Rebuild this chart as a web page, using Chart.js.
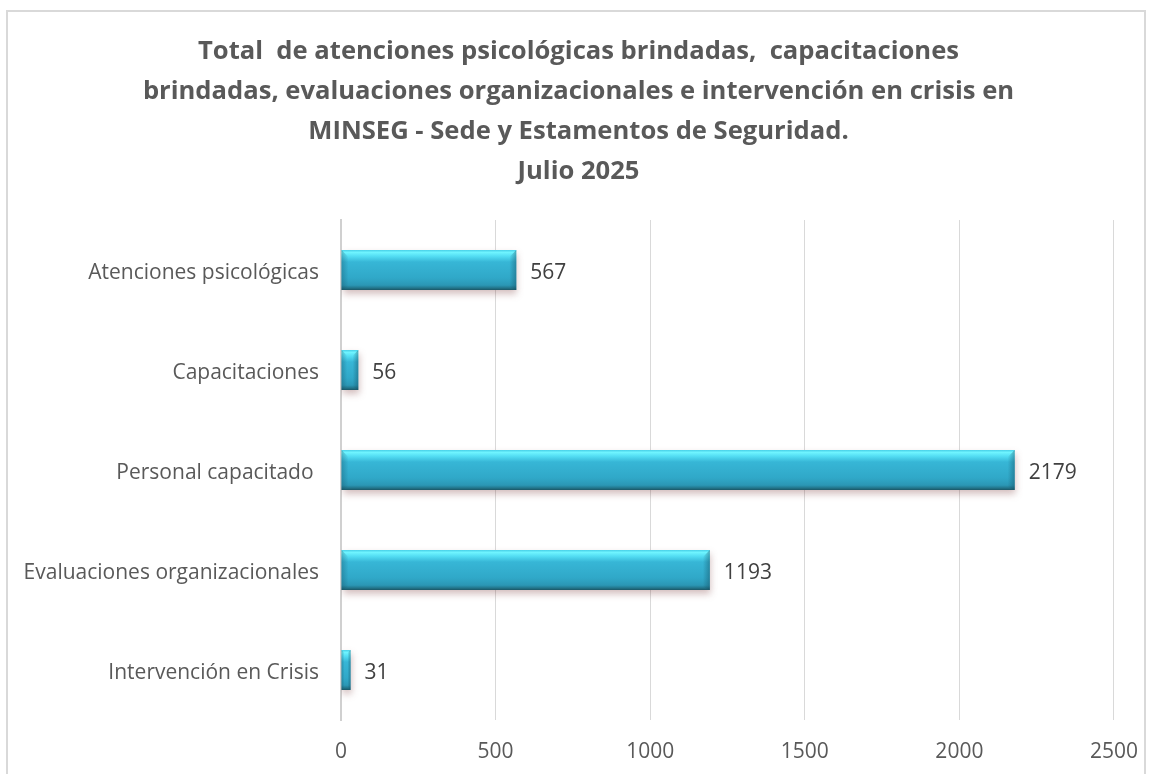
<!DOCTYPE html>
<html><head><meta charset="utf-8">
<script src="https://cdn.jsdelivr.net/npm/chart.js@4.4.1/dist/chart.umd.min.js"></script>
<style>
html,body{margin:0;padding:0;background:#fff;}
#wrap{position:relative;width:1157px;height:774px;overflow:hidden;}
#frame{position:absolute;left:6px;top:10px;width:1140px;height:800px;border:2px solid #d9d9d9;box-sizing:border-box;}
canvas{position:absolute;left:0;top:0;}
</style></head>
<body><div id="wrap"><div id="frame"></div><canvas id="c" width="1157" height="774"></canvas></div>
<script>
const titleLines = [
  "Total  de atenciones psicológicas brindadas,  capacitaciones",
  "brindadas, evaluaciones organizacionales e intervención en crisis en",
  "MINSEG - Sede y Estamentos de Seguridad.",
  "Julio 2025"
];
const categories = ["Atenciones psicológicas", "Capacitaciones", "Personal capacitado ", "Evaluaciones organizacionales", "Intervención en Crisis"];
const values = [567, 56, 2179, 1193, 31];
const xTicks = [0, 500, 1000, 1500, 2000, 2500];

const FONT = "'Open Sans', sans-serif";
const BAR_FRAC = 0.4;

function barGradient(ctx){
  const chart = ctx.chart;
  const ys = chart.scales.y;
  if(!ys) return '#31a9c8';
  const yc = ys.getPixelForValue(ctx.dataIndex);
  const h = ys.height / categories.length * BAR_FRAC;
  if(!isFinite(yc) || !isFinite(h) || h <= 0) return '#31a9c8';
  const g = chart.ctx.createLinearGradient(0, yc - h/2, 0, yc + h/2);
  g.addColorStop(0, '#47cfe6');
  g.addColorStop(0.06, '#6ff4ff');
  g.addColorStop(0.16, '#52dcf2');
  g.addColorStop(0.3, '#37b6d6');
  g.addColorStop(0.7, '#30a8c8');
  g.addColorStop(0.88, '#2b97b5');
  g.addColorStop(0.95, '#22758b');
  g.addColorStop(1, '#1a5666');
  return g;
}

const shadowPlugin = {
  id: 'shadow',
  beforeDatasetsDraw(chart){
    const c = chart.ctx; c.save();
    c.shadowColor = 'rgba(110,40,40,0.3)';
    c.shadowBlur = 7; c.shadowOffsetY = 4; c.shadowOffsetX = 1;
  },
  afterDatasetsDraw(chart){
    const c = chart.ctx; c.restore();
    const meta = chart.getDatasetMeta(0);
    c.save();
    meta.data.forEach((el, i) => {
      const top = el.y - el.height/2, bot = el.y + el.height/2;
      const left = el.base, right = el.x;
      const w = right - left;
      const e = Math.min(7, w/3);
      let g = c.createLinearGradient(right - e, 0, right, 0);
      g.addColorStop(0, 'rgba(20,80,100,0)');
      g.addColorStop(1, 'rgba(20,80,100,0.45)');
      c.fillStyle = g;
      c.beginPath(); c.moveTo(right - e, top + e); c.lineTo(right, top); c.lineTo(right, bot); c.lineTo(right - e, bot - 3); c.closePath(); c.fill();
      g = c.createLinearGradient(left, 0, left + e, 0);
      g.addColorStop(0, 'rgba(20,80,100,0.35)');
      g.addColorStop(1, 'rgba(20,80,100,0)');
      c.fillStyle = g;
      c.beginPath(); c.moveTo(left, top); c.lineTo(left + e, top + e); c.lineTo(left + e, bot - 3); c.lineTo(left, bot); c.closePath(); c.fill();
      c.fillStyle = '#404040';
      c.font = "21px " + FONT;
      c.textAlign = 'left'; c.textBaseline = 'middle';
      c.fillText(String(values[i]), right + 14, el.y + 3);
    });
    c.restore();
  }
};

new Chart(document.getElementById('c'), {
  type: 'bar',
  data: {
    labels: categories,
    datasets: [{
      data: values,
      backgroundColor: barGradient,
      borderWidth: 0,
      categoryPercentage: 1,
      barPercentage: BAR_FRAC
    }]
  },
  plugins: [shadowPlugin],
  options: {
    indexAxis: 'y',
    responsive: false,
    animation: false,
    layout: { padding: { left: 0, right: 0, top: 0, bottom: 0 } },
    plugins: {
      legend: { display: false },
      tooltip: { enabled: false },
      title: {
        display: true,
        text: titleLines,
        color: '#595959',
        font: { family: FONT, size: 25.6, weight: 'bold', lineHeight: 40/25.6 },
        padding: { top: 32, bottom: 28 }
      }
    },
    scales: {
      x: {
        min: 0, max: 2500,
        afterBuildTicks(s){ s.ticks = xTicks.map(v => ({ value: v })); },
        afterFit(s){ s.height = 54; },
        grid: { color: '#d9d9d9', lineWidth: 1, drawTicks: false },
        border: { display: false },
        ticks: { color: '#595959', font: { family: FONT, size: 21 }, padding: 19,
                 callback: (v) => String(v) }
      },
      y: {
        afterFit(s){ s.width = 341; },
        grid: { display: false, drawTicks: false },
        border: { display: true, color: '#d0d0d0', width: 2 },
        ticks: { color: '#595959', font: { family: FONT, size: 21 }, padding: 22, labelOffset: 3 }
      },
      yRight: {
        type: 'category',
        labels: categories,
        position: 'right',
        afterFit(s){ s.width = 40; },
        grid: { display: false, drawTicks: false },
        border: { display: false },
        ticks: { display: false }
      }
    }
  }
});
</script>
</body></html>
